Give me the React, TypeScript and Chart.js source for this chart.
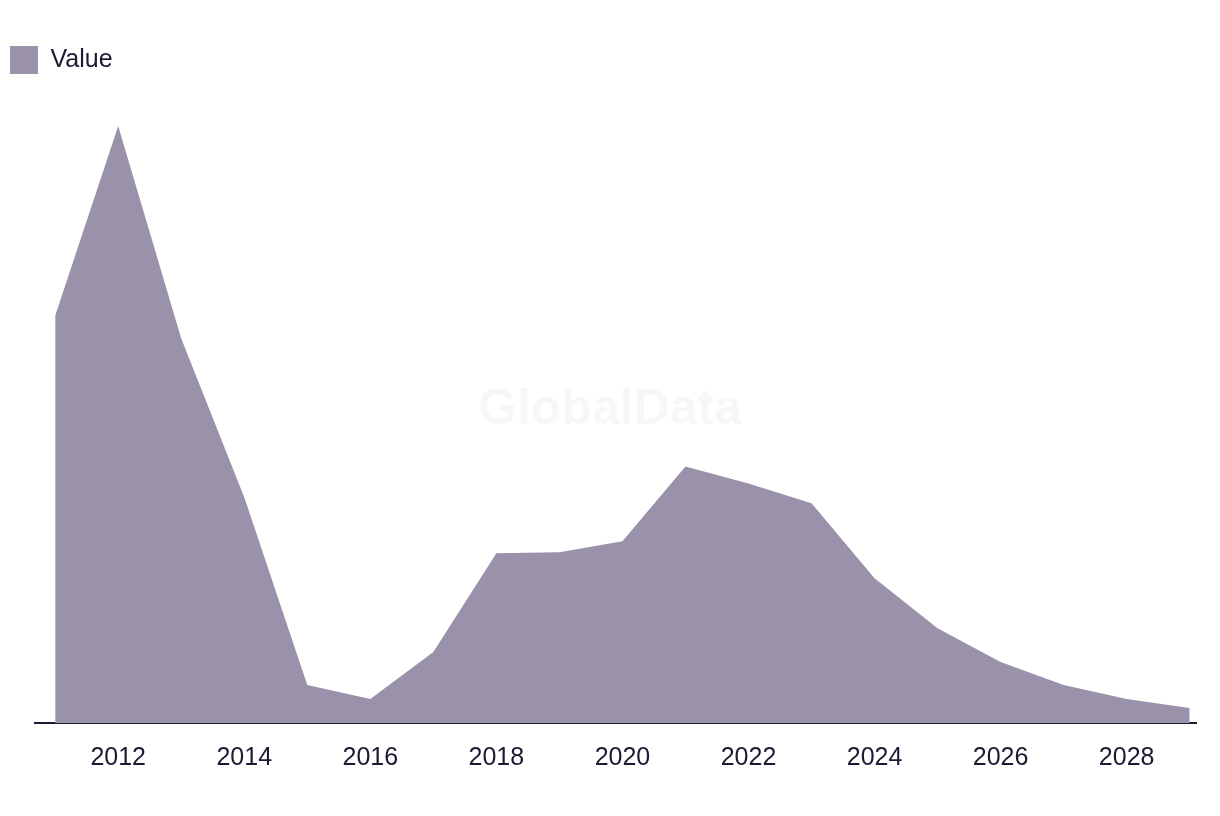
import React, { useEffect, useRef } from "react";
import { Chart, registerables } from "chart.js";

Chart.register(...registerables);

const years = [2011, 2012, 2013, 2014, 2015, 2016, 2017, 2018, 2019, 2020, 2021, 2022, 2023, 2024, 2025, 2026, 2027, 2028, 2029];
const values = [40.8, 59.8, 38.5, 22.6, 3.8, 2.4, 7.1, 17.0, 17.1, 18.2, 25.7, 24.0, 22.0, 14.5, 9.5, 6.1, 3.8, 2.4, 1.5];
const tickYears = [2012, 2014, 2016, 2018, 2020, 2022, 2024, 2026, 2028];
const seriesLabel = "Value";
const watermark = "GlobalData";

const fillColor = "#9a92aa";
const textColor = "#1c1a33";
const fontFamily = "'Liberation Sans', Arial, sans-serif";

const watermarkPlugin = {
  id: "watermark",
  beforeDatasetsDraw(chart: any) {
    const { ctx } = chart;
    ctx.save();
    ctx.font = `bold 50px ${fontFamily}`;
    ctx.fillStyle = "rgba(0,0,0,0.03)";
    ctx.textAlign = "center";
    ctx.textBaseline = "middle";
    ctx.fillText(watermark, 610, 410);
    ctx.restore();
  },
};

export default function App() {
  const ref = useRef<HTMLCanvasElement>(null);
  useEffect(() => {
    document.body.style.margin = "0";
    const canvas = ref.current!;
    const chart = new Chart(canvas, {
      type: "line",
      data: {
        datasets: [
          {
            label: seriesLabel,
            data: years.map((y, i) => ({ x: y, y: values[i] })),
            fill: "origin",
            backgroundColor: fillColor,
            borderColor: fillColor,
            borderWidth: 0,
            pointRadius: 0,
            tension: 0,
          },
        ],
      },
      options: {
        animation: false,
        responsive: false,
        layout: { padding: { left: 0, right: 24, top: 36, bottom: 23 } },
        plugins: {
          legend: {
            position: "top",
            align: "start",
            labels: {
              boxWidth: 28,
              boxHeight: 28,
              padding: 10,
              color: textColor,
              font: { family: fontFamily, size: 25 },
              generateLabels: () => [
                {
                  text: seriesLabel,
                  fillStyle: fillColor,
                  strokeStyle: fillColor,
                  lineWidth: 0,
                  datasetIndex: 0,
                  fontColor: textColor,
                },
              ],
            },
          },
          tooltip: { enabled: false },
        },
        scales: {
          x: {
            type: "linear",
            min: 2010.68,
            max: 2029.1,
            grid: { display: false, drawTicks: false },
            border: { display: true, color: textColor, width: 2 },
            afterBuildTicks: (axis: any) => {
              axis.ticks = tickYears.map((v) => ({ value: v }));
            },
            ticks: {
              color: textColor,
              padding: 20,
              autoSkip: false,
              maxRotation: 0,
              font: { family: fontFamily, size: 25 },
              callback: (v: any) => String(v),
            },
          },
          y: {
            display: true,
            min: 0,
            max: 64,
            grid: { display: false, drawTicks: false },
            border: { display: false },
            ticks: { display: false },
            afterFit: (axis: any) => {
              axis.width = 35;
            },
          },
        },
      },
      plugins: [watermarkPlugin],
    });
    return () => chart.destroy();
  }, []);
  return <canvas ref={ref} width={1220} height={816} style={{ display: "block" }} />;
}
